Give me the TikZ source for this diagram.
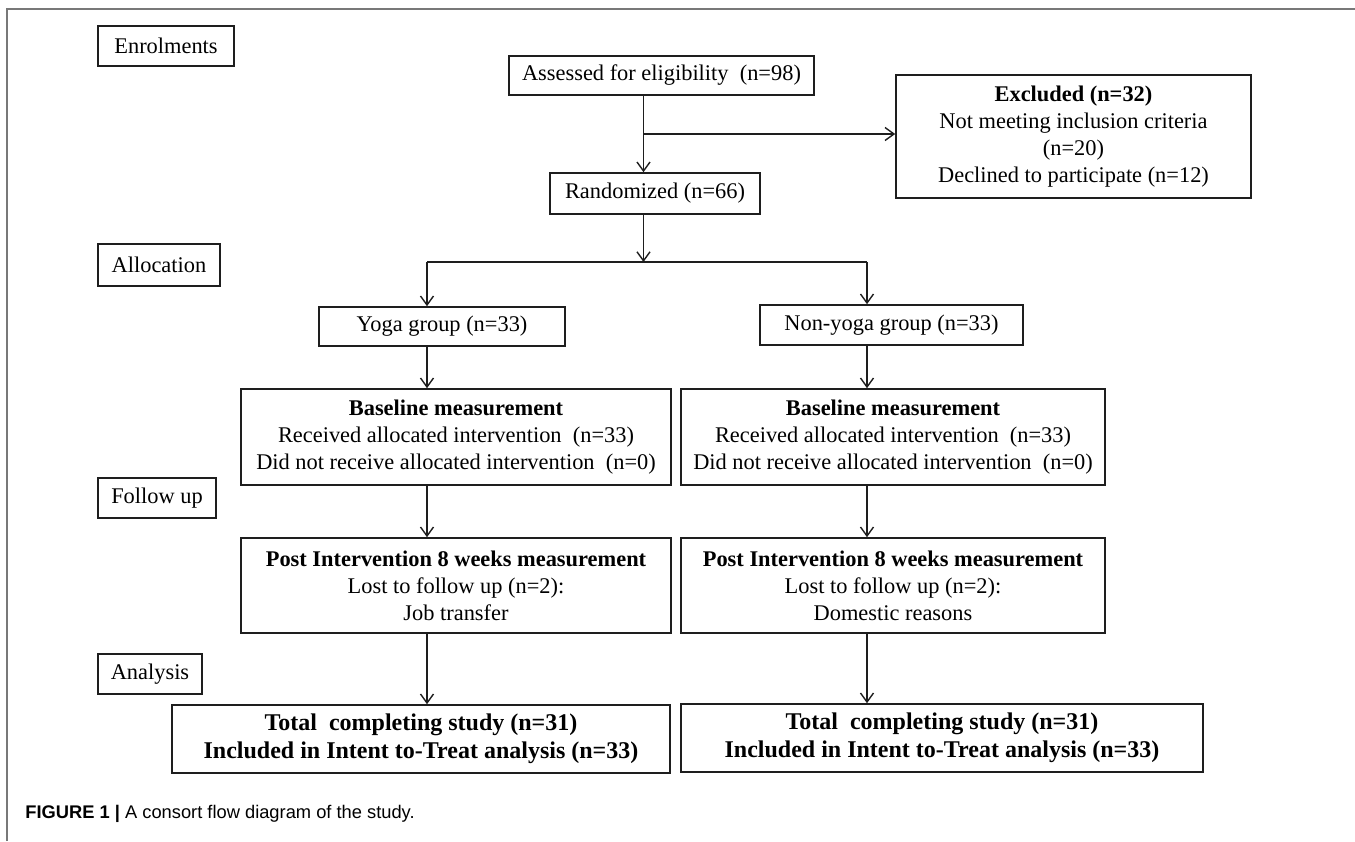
\documentclass[tikz,border=0pt]{standalone}
\usepackage{fontspec}
\setmainfont{Liberation Serif}
\newfontfamily\capfont{Liberation Sans}
\usetikzlibrary{arrows.meta}
\definecolor{framegray}{RGB}{120,120,120}
\definecolor{ink}{RGB}{30,30,30}
\begin{document}
\begin{tikzpicture}[x=0.5pt,y=-0.5pt,
  box/.style={draw=ink, line width=0.8pt, inner sep=0pt, align=center, font=\fontsize{11.2}{13.5}\selectfont},
  bigbox/.style={box, font=\bfseries\fontsize{12}{14}\selectfont},
  arr/.style={-{Straight Barb[length=4.5pt,width=6.5pt]}, line width=0.7pt, draw=ink},
  ln/.style={line width=0.7pt, draw=ink}]
\useasboundingbox (0,0) rectangle (1355,841);
% frame
\draw[framegray, line width=0.8pt] (7,841) -- (7,9) -- (1355,9);

% stage labels
\node[box, minimum width=68pt, minimum height=20pt] (enrol) at (166,46) {Enrolments};
\node[box, minimum width=61pt, minimum height=21pt] (alloc) at (159,265) {Allocation};
\node[box, minimum width=59pt, minimum height=20pt] (follow) at (157,498) {Follow up};
\node[box, minimum width=52pt, minimum height=20pt] (analysis) at (150,674) {Analysis};

% main flow
\node[box, minimum width=152.5pt, minimum height=19.5pt] (assess) at (661.5,75.5) {Assessed for eligibility\ \ (n=98)};
\node[box, minimum width=177.5pt, minimum height=61.5pt] (excl) at (1073.5,136.5)
  {\textbf{Excluded (n=32)}\\Not meeting inclusion criteria\\(n=20)\\Declined to participate (n=12)};
\node[box, minimum width=105pt, minimum height=20.5pt] (rand) at (655,193.5) {Randomized (n=66)};

\node[box, minimum width=123pt, minimum height=19.5pt] (yoga) at (442,326.5) {Yoga group (n=33)};
\node[box, minimum width=131.5pt, minimum height=20pt] (nonyoga) at (891.5,325) {Non-yoga group (n=33)};

\node[box, minimum width=215pt, minimum height=48pt] (baseL) at (456,437)
  {\textbf{Baseline measurement}\\Received allocated intervention\ \ (n=33)\\Did not receive allocated intervention\ \ (n=0)};
\node[box, minimum width=212pt, minimum height=48pt] (baseR) at (893,437)
  {\textbf{Baseline measurement}\\Received allocated intervention\ \ (n=33)\\Did not receive allocated intervention\ \ (n=0)};

\node[box, minimum width=215pt, minimum height=47.5pt] (postL) at (456,585.5)
  {\textbf{Post Intervention 8 weeks measurement}\\Lost to follow up (n=2):\\Job transfer};
\node[box, minimum width=212pt, minimum height=47.5pt] (postR) at (893,585.5)
  {\textbf{Post Intervention 8 weeks measurement}\\Lost to follow up (n=2):\\Domestic reasons};

\node[bigbox, minimum width=249pt, minimum height=34pt] (totL) at (421,739)
  {Total\ \ completing study (n=31)\\Included in Intent to-Treat analysis (n=33)};
\node[bigbox, minimum width=261pt, minimum height=34pt] (totR) at (942,738)
  {Total\ \ completing study (n=31)\\Included in Intent to-Treat analysis (n=33)};

% column coordinates
\coordinate (c0) at (643.5,0);
\coordinate (cl) at (427,0);
\coordinate (cr) at (867,0);
\coordinate (split) at (643.5,262);

% connectors
\draw[arr] (assess.south -| c0) -- (rand.north -| c0);
\draw[arr] (excl.west -| c0) ++(0,-2.5) coordinate (br) -- (excl.west |- br);
\draw[arr] (rand.south -| split) -- (split);
\draw[ln] (split -| cl) -- (split -| cr);
\draw[arr] (split -| cl) -- (yoga.north -| cl);
\draw[arr] (split -| cr) -- (nonyoga.north -| cr);
\draw[arr] (yoga.south -| cl) -- (baseL.north -| cl);
\draw[arr] (nonyoga.south -| cr) -- (baseR.north -| cr);
\draw[arr] (baseL.south -| cl) -- (postL.north -| cl);
\draw[arr] (baseR.south -| cr) -- (postR.north -| cr);
\draw[arr] (postL.south -| cl) -- (totL.north -| cl);
\draw[arr] (postR.south -| cr) -- (totR.north -| cr);

% caption
\node[anchor=base west, inner sep=0pt, font=\capfont\fontsize{9.15}{11}\selectfont] (cap) at (25,818)
  {\textbf{FIGURE 1} \textbf{|} A consort flow diagram of the study.};
\end{tikzpicture}
\end{document}
